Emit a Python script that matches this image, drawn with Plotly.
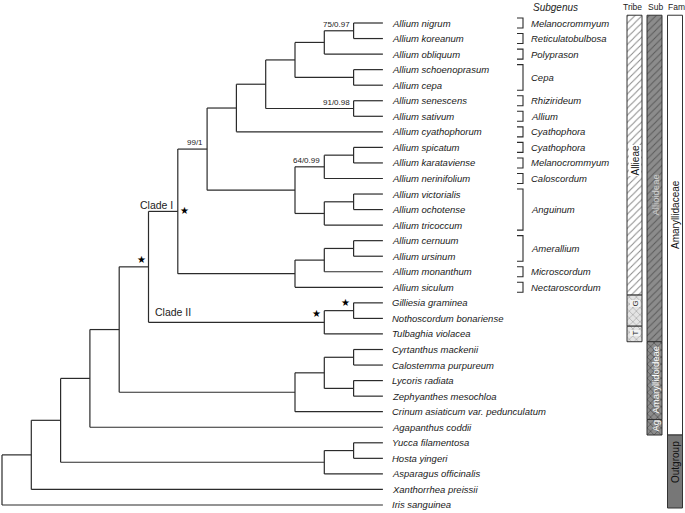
import plotly.graph_objects as go

# ---------------- data ----------------
taxa = ["Allium nigrum", "Allium koreanum", "Allium obliquum", "Allium schoenoprasum",
        "Allium cepa", "Allium senescens", "Allium sativum", "Allium cyathophorum",
        "Allium spicatum", "Allium karataviense", "Allium nerinifolium", "Allium victorialis",
        "Allium ochotense", "Allium tricoccum", "Allium cernuum", "Allium ursinum",
        "Allium monanthum", "Allium siculum", "Gilliesia graminea", "Nothoscordum bonariense",
        "Tulbaghia violacea", "Cyrtanthus mackenii", "Calostemma purpureum", "Lycoris radiata",
        "Zephyanthes mesochloa", "Crinum asiaticum var. pedunculatum", "Agapanthus coddii",
        "Yucca filamentosa", "Hosta yingeri", "Asparagus officinalis", "Xanthorrhea preissii",
        "Iris sanguinea"]

# topology (indices into taxa), newick-like
newick = ("(((((((((((((0,1),2),(3,4)),(5,6)),7),(((8,9),10),((11,12),13))),"
          "(((14,15),16),17)),((18,19),20)),(((21,22),(23,24)),25)),26),((27,28),29)),30),31)")

# support values: (label, clade defined by its tips)
support_labels = ["75/0.97", "91/0.98", "64/0.99", "99/1"]
support_clades = [[0, 1], [5, 6], [8, 9, 10], list(range(0, 14))]

star_clades = [list(range(0, 18)), list(range(0, 21)), [18, 19, 20], [18, 19]]
clade_names = ["Clade I", "Clade II"]
clade_name_clades = [list(range(0, 18)), [18, 19, 20]]

subgenus_names = ["Melanocrommyum", "Reticulatobulbosa", "Polyprason", "Cepa", "Rhizirideum",
                  "Allium", "Cyathophora", "Cyathophora", "Melanocrommyum", "Caloscordum",
                  "Anguinum", "Amerallium", "Microscordum", "Nectaroscordum"]
subgenus_first = [0, 1, 2, 3, 5, 6, 7, 8, 9, 10, 11, 14, 16, 17]
subgenus_last = [0, 1, 2, 4, 5, 6, 7, 8, 9, 10, 13, 15, 16, 17]

tribe_names = ["Allieae", "G", "T"]
tribe_first = [0, 18, 20]
tribe_last = [17, 19, 20]
sub_names = ["Allioideae", "Amaryllidoideae", "Ag"]
sub_first = [0, 21, 26]
sub_last = [20, 25, 26]
fam_names = ["Amaryllidaceae", "Outgroup"]
fam_first = [0, 27]
fam_last = [26, 31]

# ---------------- geometry helpers ----------------
W, H = 685, 513
SX = 29.3       # px per level
X0 = 2.0        # px of root
SY = 15.548     # px per taxon
Y0 = 23.0       # px of first taxon


def px_x(p):
    return (p - X0) / SX


def px_y(p):
    return (p - Y0) / SY


# ---------------- parse tree ----------------
def parse(s, i=0):
    if s[i] == "(":
        children = []
        i += 1
        while True:
            node, i = parse(s, i)
            children.append(node)
            if s[i] == ",":
                i += 1
            elif s[i] == ")":
                i += 1
                break
        return {"children": children}, i
    j = i
    while s[j].isdigit():
        j += 1
    return {"leaf": int(s[i:j])}, j


root, _ = parse(newick)


def height(n):
    if "leaf" in n:
        n["h"] = 0
    else:
        n["h"] = 1 + max(height(c) for c in n["children"])
    return n["h"]


height(root)
MAXH = root["h"]


def layout(n):
    n["x"] = MAXH - n["h"]
    if "leaf" in n:
        n["y"] = n["leaf"]
        n["tips"] = [n["leaf"]]
    else:
        for c in n["children"]:
            layout(c)
        ys = [c["y"] for c in n["children"]]
        n["y"] = (min(ys) + max(ys)) / 2
        n["tips"] = sorted(t for c in n["children"] for t in c["tips"])


layout(root)

lx, ly = [], []
nodes_by_tips = {}


def draw(n):
    nodes_by_tips[tuple(n["tips"])] = n
    if "leaf" in n:
        return
    ys = [c["y"] for c in n["children"]]
    lx.extend([n["x"], n["x"], None])
    ly.extend([min(ys), max(ys), None])
    for c in n["children"]:
        lx.extend([n["x"], c["x"], None])
        ly.extend([c["y"], c["y"], None])
        draw(c)


draw(root)

fig = go.Figure()
fig.add_trace(go.Scatter(x=lx, y=ly, mode="lines", line=dict(color="#2b2b2b", width=1.2),
                         hoverinfo="skip", cliponaxis=False))

FONT = "Liberation Sans, Arial, sans-serif"
ann = []

# taxon labels
for i, t in enumerate(taxa):
    ann.append(dict(x=MAXH + 7 / SX, y=i, text="<i>%s</i>" % t, xanchor="left", yanchor="middle",
                    showarrow=False, font=dict(family=FONT, size=9.5, color="#1a1a1a")))

# support labels
for lab, cl in zip(support_labels, support_clades):
    n = nodes_by_tips[tuple(cl)]
    ann.append(dict(x=n["x"] - 2 / SX, y=n["y"], text=lab, xanchor="right", yanchor="bottom",
                    yshift=0, showarrow=False, font=dict(family=FONT, size=8, color="#222")))

# stars
star_offsets = [(7, -1), (-7, -7), (-8, -9), (-8, -8)]
for cl, (dx, dy) in zip(star_clades, star_offsets):
    n = nodes_by_tips[tuple(cl)]
    ann.append(dict(x=n["x"] + dx / SX, y=n["y"] + dy / SY, text="\u2605", xanchor="center",
                    yanchor="middle", showarrow=False,
                    font=dict(family="DejaVu Sans", size=10, color="black")))

# clade names
n1 = nodes_by_tips[tuple(clade_name_clades[0])]
ann.append(dict(x=n1["x"] - 3 / SX, y=n1["y"] - 6 / SY, text=clade_names[0], xanchor="right",
                yanchor="middle", showarrow=False, font=dict(family=FONT, size=10.5, color="#222")))
n2 = nodes_by_tips[tuple(clade_name_clades[1])]
parent_x = nodes_by_tips[tuple(range(0, 21))]["x"]
ann.append(dict(x=parent_x + 4 / SX, y=n2["y"] - 10 / SY, text=clade_names[1], xanchor="left",
                yanchor="middle", showarrow=False, font=dict(family=FONT, size=10.5, color="#222")))

# subgenus brackets
bx, by = [], []
xb_l, xb_r = px_x(517), px_x(523)
for name, a, b in zip(subgenus_names, subgenus_first, subgenus_last):
    y_top = a - 5 / SY
    y_bot = b + 5 / SY
    bx.extend([xb_l, xb_r, xb_r, xb_l, None])
    by.extend([y_top, y_top, y_bot, y_bot, None])
    ann.append(dict(x=px_x(529), y=(a + b) / 2, text="<i>%s</i>" % name, xanchor="left",
                    yanchor="middle", showarrow=False,
                    font=dict(family=FONT, size=9.5, color="#1a1a1a")))
fig.add_trace(go.Scatter(x=bx, y=by, mode="lines", line=dict(color="#2b2b2b", width=1.1),
                         hoverinfo="skip"))

ann.append(dict(x=px_x(555), y=px_y(7), text="<i>Subgenus</i>", xanchor="center", yanchor="middle",
                showarrow=False, font=dict(family=FONT, size=10, color="#222")))
for txt, cx in [("Tribe", 632), ("Sub", 655), ("Fam", 676)]:
    ann.append(dict(x=px_x(cx), y=px_y(7), text=txt, xanchor="center", yanchor="middle",
                    showarrow=False, font=dict(family=FONT, size=8.5, color="#222")))


# classification bars
def add_bar(xc_px, w_px, first, last, shape, fg, bg, bottom_px=None, solidity=0.15):
    top = first - 0.5
    bot = last + 0.5 if bottom_px is None else px_y(bottom_px)
    pat = dict(shape=shape, fgcolor=fg, bgcolor=bg, size=5, solidity=solidity, fillmode="replace")
    fig.add_trace(go.Bar(x=[px_x(xc_px)], y=[bot - top], base=[top], width=[w_px / SX],
                         marker=dict(color=bg, pattern=pat, line=dict(color="#333", width=1)),
                         hoverinfo="skip"))


TX, SXB, FX, BW = 634.5, 654.5, 675, 15
add_bar(TX, BW, tribe_first[0], tribe_last[0], "/", "#8a8a8a", "white", solidity=0.2)
add_bar(TX, BW, tribe_first[1], tribe_last[1], "x", "#7a7a7a", "#e4e4e4")
add_bar(TX, BW, tribe_first[2], tribe_last[2], "x", "#7a7a7a", "#e4e4e4")
add_bar(SXB, BW, sub_first[0], sub_last[0], "/", "#5a5a5a", "#8c8c8c", solidity=0.2)
add_bar(SXB, BW, sub_first[1], sub_last[1], "x", "#4a4a4a", "#8c8c8c", solidity=0.25)
add_bar(SXB, BW, sub_first[2], sub_last[2], "x", "#4a4a4a", "#8c8c8c", solidity=0.25)
add_bar(FX, BW, fam_first[0], fam_last[0], "", "white", "white")
add_bar(FX, BW, fam_first[1], fam_last[1], "", "#777777", "#777777", bottom_px=508)


def bar_label(xc_px, yc, text, color, size, bg=None):
    d = dict(x=px_x(xc_px), y=yc, text=text, textangle=-90, xanchor="center", yanchor="middle",
             showarrow=False, font=dict(family=FONT, size=size, color=color))
    if bg:
        d["bgcolor"] = bg
        d["borderpad"] = 0
    ann.append(d)


bar_label(TX, px_y(161), tribe_names[0], "#111", 10, bg="white")
bar_label(TX, px_y(304), tribe_names[1], "#222", 8, bg="#f2f2f2")
bar_label(TX, px_y(333), tribe_names[2], "#222", 8, bg="#f2f2f2")
bar_label(SXB, px_y(195), sub_names[0], "#cfcfcf", 9.5)
bar_label(SXB, px_y(380), sub_names[1], "white", 9.5)
bar_label(SXB, px_y(426), sub_names[2], "white", 9.5)
bar_label(FX, px_y(215), fam_names[0], "#111", 10)
bar_label(FX, px_y(462), fam_names[1], "#111", 10)

fig.update_layout(
    width=W, height=H, margin=dict(l=0, r=0, t=0, b=0),
    paper_bgcolor="white", plot_bgcolor="white", showlegend=False, barmode="overlay",
    xaxis=dict(visible=False, range=[px_x(0), px_x(W)], fixedrange=True),
    yaxis=dict(visible=False, range=[px_y(H), px_y(0)], fixedrange=True),
    annotations=ann,
)

fig.write_html(
    "out.html",
    config={"displayModeBar": False, "staticPlot": True},
    post_script="document.body.style.margin='0';document.body.style.padding='0';"
                "document.body.style.overflow='hidden';",
)
